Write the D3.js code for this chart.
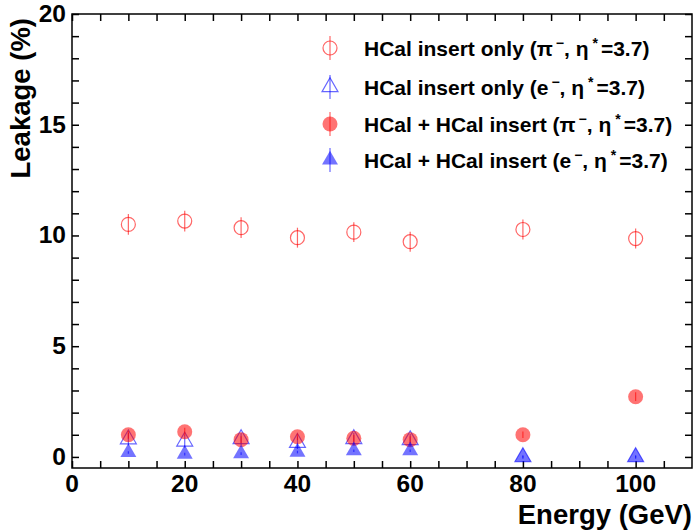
<!DOCTYPE html>
<html>
<head>
<meta charset="utf-8">
<script src="https://cdn.jsdelivr.net/npm/d3@7"></script>
<style>
  body { margin: 0; background: #fff; }
  text { font-family: "Liberation Sans", Arial, sans-serif; font-weight: bold; }
</style>
</head>
<body>
<script>
// energies (GeV)
let energy = [10, 20, 30, 40, 50, 60, 80, 100];

// leakage values (%)
let piInsert = [10.5, 10.65, 10.35, 9.9, 10.15, 9.72, 10.27, 9.86];
let piInsertErr = [0.47, 0.47, 0.47, 0.45, 0.45, 0.45, 0.45, 0.45];
let eInsert = [0.8, 0.7, 0.81, 0.64, 0.81, 0.76, 0.0, 0.0];
let eInsertErr = [0.28, 0.28, 0.28, 0.28, 0.28, 0.28, 0.08, 0.08];
let piBoth = [1.0, 1.14, 0.78, 0.91, 0.84, 0.78, 1.0, 2.72];
let piBothErr = [0.18, 0.18, 0.15, 0.15, 0.15, 0.15, 0.15, 0.2];
let eBoth = [0.2, 0.13, 0.15, 0.22, 0.28, 0.28, 0.0, 0.0];
let eBothErr = [0.06, 0.06, 0.06, 0.06, 0.06, 0.06, 0.03, 0.03];

let xTicks = [0, 20, 40, 60, 80, 100];
let yTicks = [0, 5, 10, 15, 20];

let margin = {top: 14, right: 2, bottom: 62, left: 72},
    width = 694 - margin.left - margin.right,
    height = 530 - margin.top - margin.bottom;

let svg = d3.select("body")
    .append("svg")
        .attr("width", 694)
        .attr("height", 530)
    .append("g")
        .attr("transform", "translate(" + margin.left + "," + margin.top + ")");

let x = d3.scaleLinear().domain([0, 110]).range([0, width]);
let y = d3.scaleLinear().domain([-0.5, 20]).range([height, 0]);

// frame with inward ticks on all four sides
function styleAxis(g) {
    g.select(".domain").remove();
    g.selectAll("line").attr("stroke", "#000").attr("stroke-width", 1.5);
}
svg.append("g").attr("transform", "translate(0," + height + ")")
    .call(d3.axisBottom(x).tickValues(d3.range(0, 110, 5)).tickSize(-7).tickFormat(""))
    .call(styleAxis);
svg.append("g")
    .call(d3.axisTop(x).tickValues(d3.range(0, 110, 5)).tickSize(-7).tickFormat(""))
    .call(styleAxis);
svg.append("g")
    .call(d3.axisLeft(y).tickValues(d3.range(0, 21, 1)).tickSize(-7).tickFormat(""))
    .call(styleAxis);
svg.append("g").attr("transform", "translate(" + width + ",0)")
    .call(d3.axisRight(y).tickValues(d3.range(0, 21, 1)).tickSize(-7).tickFormat(""))
    .call(styleAxis);
svg.append("rect")
    .attr("width", width).attr("height", height)
    .attr("fill", "none").attr("stroke", "#000").attr("stroke-width", 1.5);

// tick labels
svg.selectAll(".xlab").data(xTicks).enter().append("text")
    .attr("x", d => x(d)).attr("y", height + 24)
    .attr("text-anchor", "middle").style("font-size", "24.5px")
    .text(d => d);
svg.selectAll(".ylab").data(yTicks).enter().append("text")
    .attr("x", -6).attr("y", d => y(d) + 8)
    .attr("text-anchor", "end").style("font-size", "24.5px")
    .text(d => d);

// axis titles
svg.append("text")
    .attr("x", width).attr("y", height + 56)
    .attr("text-anchor", "end").style("font-size", "27.5px")
    .text("Energy (GeV)");
svg.append("text")
    .attr("transform", "translate(-42,4) rotate(-90)")
    .attr("text-anchor", "end").style("font-size", "27.5px")
    .text("Leakage (%)");

let red = "rgb(255,0,0)", blue = "rgb(0,0,255)";
let tri = d3.symbol(d3.symbolTriangle, 110);

let series = [
    {vals: piInsert, errs: piInsertErr, shape: "circle", filled: false, color: red,
     label: ["HCal insert only (\u03c0", "\u2212", ", \u03b7", "*", "=3.7)"]},
    {vals: eInsert, errs: eInsertErr, shape: "triangle", filled: false, color: blue,
     label: ["HCal insert only (e", "\u2212", ", \u03b7", "*", "=3.7)"]},
    {vals: piBoth, errs: piBothErr, shape: "circle", filled: true, color: red,
     label: ["HCal + HCal insert (\u03c0", "\u2212", ", \u03b7", "*", "=3.7)"]},
    {vals: eBoth, errs: eBothErr, shape: "triangle", filled: true, color: blue,
     label: ["HCal + HCal insert (e", "\u2212", ", \u03b7", "*", "=3.7)"]}
];

function drawMarker(g, s) {
    if (s.shape == "circle") {
        g.append("circle").attr("r", s.filled ? 7.5 : 7);
    } else {
        g.append("path").attr("d", tri);
    }
    g.selectAll("circle, path")
        .attr("fill", s.filled ? s.color : "none")
        .attr("fill-opacity", s.filled ? 0.55 : 0)
        .attr("stroke", s.color)
        .attr("stroke-opacity", s.filled ? 0 : 0.6)
        .attr("stroke-width", 1.2);
}

// data points with error bars
series.forEach(function(s) {
    let pts = svg.append("g").selectAll("g")
        .data(energy.map((e, i) => ({e: e, v: s.vals[i], err: s.errs[i]})))
        .enter().append("g");
    pts.append("line")
        .attr("x1", d => x(d.e)).attr("x2", d => x(d.e))
        .attr("y1", d => y(d.v - d.err)).attr("y2", d => y(d.v + d.err))
        .attr("stroke", s.color).attr("stroke-opacity", 0.6).attr("stroke-width", 1.2);
    pts.each(function(d) {
        let m = d3.select(this).append("g")
            .attr("transform", "translate(" + x(d.e) + "," + y(d.v) + ")");
        drawMarker(m, s);
    });
});

// legend
let legY = [34, 73, 110, 146];
series.forEach(function(s, i) {
    let row = svg.append("g").attr("transform", "translate(258," + legY[i] + ")");
    row.append("line").attr("y1", -12).attr("y2", 12)
        .attr("stroke", s.color).attr("stroke-opacity", 0.6).attr("stroke-width", 1.2);
    drawMarker(row.append("g"), s);
    let t = row.append("text").attr("x", 34).attr("y", 7.5).style("font-size", "21px");
    t.append("tspan").text(s.label[0]);
    t.append("tspan").attr("dx", 3).attr("dy", -8).style("font-size", "14px").text(s.label[1]);
    t.append("tspan").attr("dy", 8).text(s.label[2]);
    t.append("tspan").attr("dx", 4).attr("dy", -8).style("font-size", "14px").text(s.label[3]);
    t.append("tspan").attr("dx", 3).attr("dy", 8).text(s.label[4]);
});
</script>
</body>
</html>
